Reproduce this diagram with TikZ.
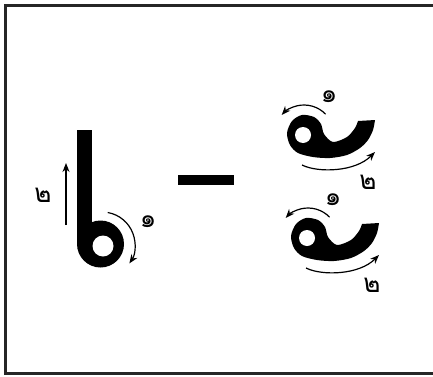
\documentclass[tikz,border=0pt]{standalone}
\usepackage{fontspec}
\newfontfamily\thaifont[Script=Thai]{Loma}
\usetikzlibrary{arrows.meta}

\begin{document}
\begin{tikzpicture}[x=1pt,y=1pt,
  movearrow/.style={line width=1.2pt, -{Stealth[length=9pt,width=7pt]}},
  digit/.style={font=\thaifont\fontsize{26}{26}\selectfont, inner sep=0pt}]
\useasboundingbox (0,0) rectangle (433,376);
\fill[white] (0,0) rectangle (433,376);
\draw[line width=2.5pt, black!85] (5.5,2.5) rectangle (445,370.5);

% left sign: stroke 2 goes up the bar, stroke 1 round the loop
\fill (77,132) rectangle (92,246);
\fill (100.5,132) circle (23.5);
\fill[white] (103,130) circle (10.5);
\coordinate (barfoot) at (66,151);
\coordinate (bartop) at (66,213);
\draw[movearrow] (barfoot) -- (bartop);
\node[digit] (twoL) at (43,181) {๒};
\coordinate (ringc) at (102,131);
\draw[movearrow] ([shift={(80:33)}]ringc) arc[start angle=80, end angle=-34, radius=33];
\node[digit] (oneL) at (148,154) {๑};

% dash
\fill (178,191) rectangle (234,201);

% right sign, drawn twice
\foreach \dx/\dy/\i in {0/0/a, 4/-103/b} {
\begin{scope}[shift={(\dx,\dy)}]
  \fill plot[smooth] coordinates {(375,256) (373,246) (368,236) (360,228)
      (347,221) (330,218) (313,219) (298,223) (290,231) (287,243) (292,255)
      (302,261) (314,259) (321,252) (324,242) (333,234) (347,239) (355,248)
      (358,255)} -- cycle;
  \fill[white] (303,241) circle (8);
  \coordinate (loop\i) at (304,241);
  \draw[movearrow] ([shift={(44:30)}]loop\i) arc[start angle=44, end angle=138, radius=30];
  \node[digit] (one\i) at (329,279) {๑};
  \coordinate (tailfrom\i) at (302,211);
  \coordinate (tailto\i) at (375,224);
  \draw[movearrow] (tailfrom\i) .. controls (318,203) and (355,204) .. (tailto\i);
  \node[digit] (two\i) at (368,194) {๒};
\end{scope}
}
\end{tikzpicture}
\end{document}
